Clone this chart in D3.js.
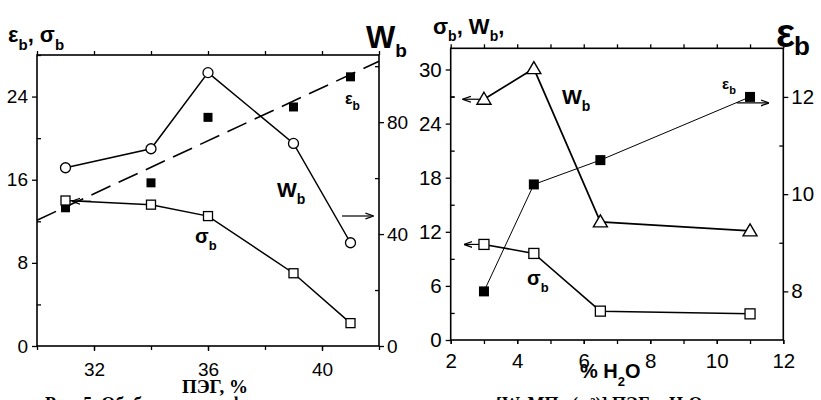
<!DOCTYPE html>
<html><head><meta charset="utf-8">
<script src="https://cdn.jsdelivr.net/npm/d3@7"></script>
<style>
body{margin:0;background:#fff;}
svg{display:block;}
text{font-family:"Liberation Sans",Arial,sans-serif;fill:#000;}
</style></head>
<body><svg id="c" width="821" height="400"></svg>
<script>
// ---- data: left panel (PEG, %) ----
const pegX = [31, 34, 36, 39, 41];
const pegW = [63.7, 70.5, 97.7, 72.4, 36.9];
const pegSigma = [14.0, 13.6, 12.5, 7.0, 2.2];
const pegEps = [13.3, 15.7, 22.0, 23.0, 25.9];
const pegFitX = [30, 42];
const pegFitY = [12.1, 27.4];
const pegXTicks = [32, 36, 40];
const pegLeftTicks = [0, 8, 16, 24];
const pegRightTicks = [0, 40, 80];
// ---- data: right panel (% H2O) ----
const waterX = [3, 4.5, 6.5, 11];
const waterW = [26.7, 30.1, 13.1, 12.1];
const waterSigma = [10.6, 9.6, 3.2, 2.9];
const waterEps = [8.0, 10.2, 10.7, 12.0];
const waterXTicks = [2, 4, 6, 8, 10, 12];
const waterLeftTicks = [0, 6, 12, 18, 24, 30];
const waterRightTicks = [8, 10, 12];

const svg = d3.select("#c");
const defs = svg.append("defs");
defs.append("marker").attr("id","ah").attr("viewBox","0 0 10 10").attr("refX",9).attr("refY",5)
  .attr("markerWidth",7).attr("markerHeight",7).attr("orient","auto-start-reverse")
  .append("path").attr("d","M0,1.5 L10,5 L0,8.5").attr("fill","none").attr("stroke","#000").attr("stroke-width",1.5);

function axisGroup(g, axis, tx, ty, size){
  const a = g.append("g").attr("transform",`translate(${tx},${ty})`).call(axis);
  a.select(".domain").remove();
  a.selectAll("line").attr("stroke","#000").attr("stroke-width",1.3);
  a.selectAll("text").style("font-size",size+"px").style("font-family","'Liberation Sans',Arial,sans-serif");
  return a;
}
function range(a,b,s){const r=[];for(let v=a;v<=b+1e-9;v+=s)r.push(+v.toFixed(6));return r;}

function subLabel(g, x, y, main, sub, fs, sfs, dy){
  const t = g.append("text").attr("x",x).attr("y",y).style("font-weight","bold").style("font-size",fs+"px");
  t.append("tspan").text(main);
  t.append("tspan").attr("dy",dy).style("font-size",sfs+"px").text(sub);
  return t;
}

// ================= LEFT PANEL =================
const L = {x0:37, x1:379, y0:55, y1:346};
const lx = d3.scaleLinear().domain([30,42]).range([L.x0,L.x1]);
const ly = d3.scaleLinear().domain([0,28]).range([L.y1,L.y0]);
const lyR = d3.scaleLinear().domain([0,104]).range([L.y1,L.y0]);
const gl = svg.append("g");

axisGroup(gl, d3.axisBottom(lx).tickValues(pegXTicks).tickSize(5).tickPadding(12).tickFormat(d3.format("d")), 0, L.y1, 19);
axisGroup(gl, d3.axisTop(lx).tickValues(range(30,42,2)).tickSize(-4).tickFormat(""), 0, L.y1, 10);
axisGroup(gl, d3.axisBottom(lx).tickValues(range(30,42,2)).tickSize(-4).tickFormat(""), 0, L.y0, 10);
axisGroup(gl, d3.axisLeft(ly).tickValues(pegLeftTicks).tickSize(5).tickPadding(4).tickFormat(d3.format("d")), L.x0, 0, 19);
axisGroup(gl, d3.axisLeft(ly).tickValues(range(4,28,8)).tickSize(-4).tickFormat(""), L.x0, 0, 10);
axisGroup(gl, d3.axisRight(lyR).tickValues(pegRightTicks).tickSize(5).tickPadding(3).tickFormat(d3.format("d")), L.x1, 0, 19);
axisGroup(gl, d3.axisRight(lyR).tickValues([20,60,100]).tickSize(-4).tickFormat(""), L.x1, 0, 10);
gl.append("rect").attr("x",L.x0).attr("y",L.y0).attr("width",L.x1-L.x0).attr("height",L.y1-L.y0)
  .attr("fill","none").attr("stroke","#000").attr("stroke-width",1.6);

// dashed fit of eps
gl.append("line").attr("x1",lx(pegFitX[0])).attr("y1",ly(pegFitY[0])).attr("x2",lx(pegFitX[1])).attr("y2",ly(pegFitY[1]))
  .attr("stroke","#000").attr("stroke-width",1.6).attr("stroke-dasharray","21,9");

const lineW = d3.line().x((d,i)=>lx(pegX[i])).y(d=>lyR(d));
gl.append("path").attr("d",lineW(pegW)).attr("fill","none").attr("stroke","#000").attr("stroke-width",1.5);
const lineS = d3.line().x((d,i)=>lx(pegX[i])).y(d=>ly(d));
gl.append("path").attr("d",lineS(pegSigma)).attr("fill","none").attr("stroke","#000").attr("stroke-width",1.5);

gl.selectAll(".le").data(pegEps).enter().append("rect")
  .attr("x",(d,i)=>lx(pegX[i])-4.5).attr("y",d=>ly(d)-4.5).attr("width",9).attr("height",9).attr("fill","#000");
gl.selectAll(".ls").data(pegSigma).enter().append("rect")
  .attr("x",(d,i)=>lx(pegX[i])-4.5).attr("y",d=>ly(d)-4.5).attr("width",9).attr("height",9)
  .attr("fill","#fff").attr("stroke","#000").attr("stroke-width",1.3);
gl.selectAll(".lc").data(pegW).enter().append("circle")
  .attr("cx",(d,i)=>lx(pegX[i])).attr("cy",d=>lyR(d)).attr("r",5)
  .attr("fill","#fff").attr("stroke","#000").attr("stroke-width",1.3);

// arrows
gl.append("line").attr("x1",lx(31.9)).attr("y1",ly(pegSigma[0]*0.995)).attr("x2",lx(31.25)).attr("y2",ly(pegSigma[0]*0.995))
  .attr("stroke","#000").attr("stroke-width",1.2).attr("marker-end","url(#ah)");
gl.append("line").attr("x1",342).attr("y1",216).attr("x2",373).attr("y2",216)
  .attr("stroke","#000").attr("stroke-width",1.2).attr("marker-end","url(#ah)");

// labels
{
  const t = gl.append("text").attr("x",8).attr("y",42).style("font-weight","bold").style("font-size","22px");
  t.append("tspan").text("ε");
  t.append("tspan").attr("dy",8).style("font-size","15px").text("b");
  t.append("tspan").attr("dy",-8).text(", σ");
  t.append("tspan").attr("dy",8).style("font-size","15px").text("b");
}
subLabel(gl, 366, 48, "W", "b", 31, 19, 9);
subLabel(gl, 345, 104, "ε", "b", 16, 12, 6);
subLabel(gl, 277, 197, "W", "b", 21, 14, 7);
subLabel(gl, 195, 243, "σ", "b", 20, 13, 7);
gl.append("text").attr("x",215).attr("y",393).attr("text-anchor","middle")
  .style("font-family","'Liberation Serif','Times New Roman',serif").style("font-weight","bold").style("font-size","19px").text("ПЭГ, %");

// ================= RIGHT PANEL =================
const R = {x0:450.7, x1:783.3, y0:48.3, y1:340};
const rx = d3.scaleLinear().domain([2,12]).range([R.x0,R.x1]);
const ry = d3.scaleLinear().domain([0,32.35]).range([R.y1,R.y0]);
const ryR = d3.scaleLinear().domain([7,13]).range([R.y1,R.y0]);
const gr = svg.append("g");

axisGroup(gr, d3.axisBottom(rx).tickValues(waterXTicks).tickSize(4).tickPadding(9).tickFormat(d3.format("d")), 0, R.y1, 20.5);
axisGroup(gr, d3.axisTop(rx).tickValues(range(2,12,1)).tickSize(-4).tickFormat(""), 0, R.y1, 10);
axisGroup(gr, d3.axisBottom(rx).tickValues(range(2,12,1)).tickSize(-4).tickFormat(""), 0, R.y0, 10);
axisGroup(gr, d3.axisLeft(ry).tickValues(waterLeftTicks).tickSize(5).tickPadding(4).tickFormat(d3.format("d")), R.x0, 0, 20.5);
axisGroup(gr, d3.axisLeft(ry).tickValues(range(3,27,6).concat([27])).tickSize(-4).tickFormat(""), R.x0, 0, 10);
axisGroup(gr, d3.axisRight(ryR).tickValues(waterRightTicks).tickSize(5).tickPadding(3).tickFormat(d3.format("d")), R.x1, 0, 20.5);
axisGroup(gr, d3.axisRight(ryR).tickValues([9,11]).tickSize(-4).tickFormat(""), R.x1, 0, 10);
gr.append("rect").attr("x",R.x0).attr("y",R.y0).attr("width",R.x1-R.x0).attr("height",R.y1-R.y0)
  .attr("fill","none").attr("stroke","#000").attr("stroke-width",1.6);

const rLineW = d3.line().x((d,i)=>rx(waterX[i])).y(d=>ry(d));
gr.append("path").attr("d",rLineW(waterW)).attr("fill","none").attr("stroke","#000").attr("stroke-width",1.7);
gr.append("path").attr("d",rLineW(waterSigma)).attr("fill","none").attr("stroke","#000").attr("stroke-width",1.5);
const rLineE = d3.line().x((d,i)=>rx(waterX[i])).y(d=>ryR(d));
gr.append("path").attr("d",rLineE(waterEps)).attr("fill","none").attr("stroke","#000").attr("stroke-width",1);

gr.selectAll(".re").data(waterEps).enter().append("rect")
  .attr("x",(d,i)=>rx(waterX[i])-5).attr("y",d=>ryR(d)-5).attr("width",10).attr("height",10).attr("fill","#000");
gr.selectAll(".rs").data(waterSigma).enter().append("rect")
  .attr("x",(d,i)=>rx(waterX[i])-5).attr("y",d=>ry(d)-5).attr("width",10).attr("height",10)
  .attr("fill","#fff").attr("stroke","#000").attr("stroke-width",1.3);
gr.selectAll(".rt").data(waterW).enter().append("path").attr("d","M0,-7 L7,5 L-7,5 Z")
  .attr("transform",(d,i)=>`translate(${rx(waterX[i])},${ry(d)})`)
  .attr("fill","#fff").attr("stroke","#000").attr("stroke-width",1.4).attr("stroke-linejoin","miter");

// arrows
gr.append("line").attr("x1",rx(2.9)).attr("y1",ry(waterW[0])).attr("x2",rx(2.38)).attr("y2",ry(waterW[0]))
  .attr("stroke","#000").attr("stroke-width",1.2).attr("marker-end","url(#ah)");
gr.append("line").attr("x1",rx(2.85)).attr("y1",ry(waterSigma[0])).attr("x2",rx(2.42)).attr("y2",ry(waterSigma[0]))
  .attr("stroke","#000").attr("stroke-width",1.2).attr("marker-end","url(#ah)");
gr.append("line").attr("x1",rx(10.6)).attr("y1",ryR(waterEps[3])+6).attr("x2",rx(11.55)).attr("y2",ryR(waterEps[3])+6)
  .attr("stroke","#000").attr("stroke-width",1.2).attr("marker-end","url(#ah)");

// labels
subLabel(gr, 562, 104, "W", "b", 21, 14, 7);
subLabel(gr, 722, 89, "ε", "b", 15, 11, 5);
subLabel(gr, 527, 285, "σ", "b", 20, 13, 7);
{
  const t = gr.append("text").attr("x",433).attr("y",34).style("font-weight","bold").style("font-size","22px");
  t.append("tspan").text("σ");
  t.append("tspan").attr("dy",7).style("font-size","14px").text("b");
  t.append("tspan").attr("dy",-7).text(", W");
  t.append("tspan").attr("dy",7).style("font-size","14px").text("b");
  t.append("tspan").attr("dy",-7).text(",");
}
gr.append("text").attr("x",776).attr("y",47).style("font-weight","bold").style("font-size","40px").text("ε");
gr.append("text").attr("x",794).attr("y",55).style("font-weight","bold").style("font-size","26px").text("b");
{
  const t = gr.append("text").attr("x",580).attr("y",378).style("font-weight","bold").style("font-size","20px");
  t.append("tspan").text("% H");
  t.append("tspan").attr("dy",8).style("font-size","13px").text("2");
  t.append("tspan").attr("dy",-8).text("O");
}

// caption (cut by the bottom edge, as in the reference)
svg.append("text").attr("x",45).attr("y",410)
  .style("font-family","'Liberation Serif','Times New Roman',serif").style("font-weight","bold").style("font-size","18px")
  .text("Рис. 5. Обобщенные деформационные характеристики [W, МПа (м³)] ПЭГ и H₂O");
</script></body></html>
